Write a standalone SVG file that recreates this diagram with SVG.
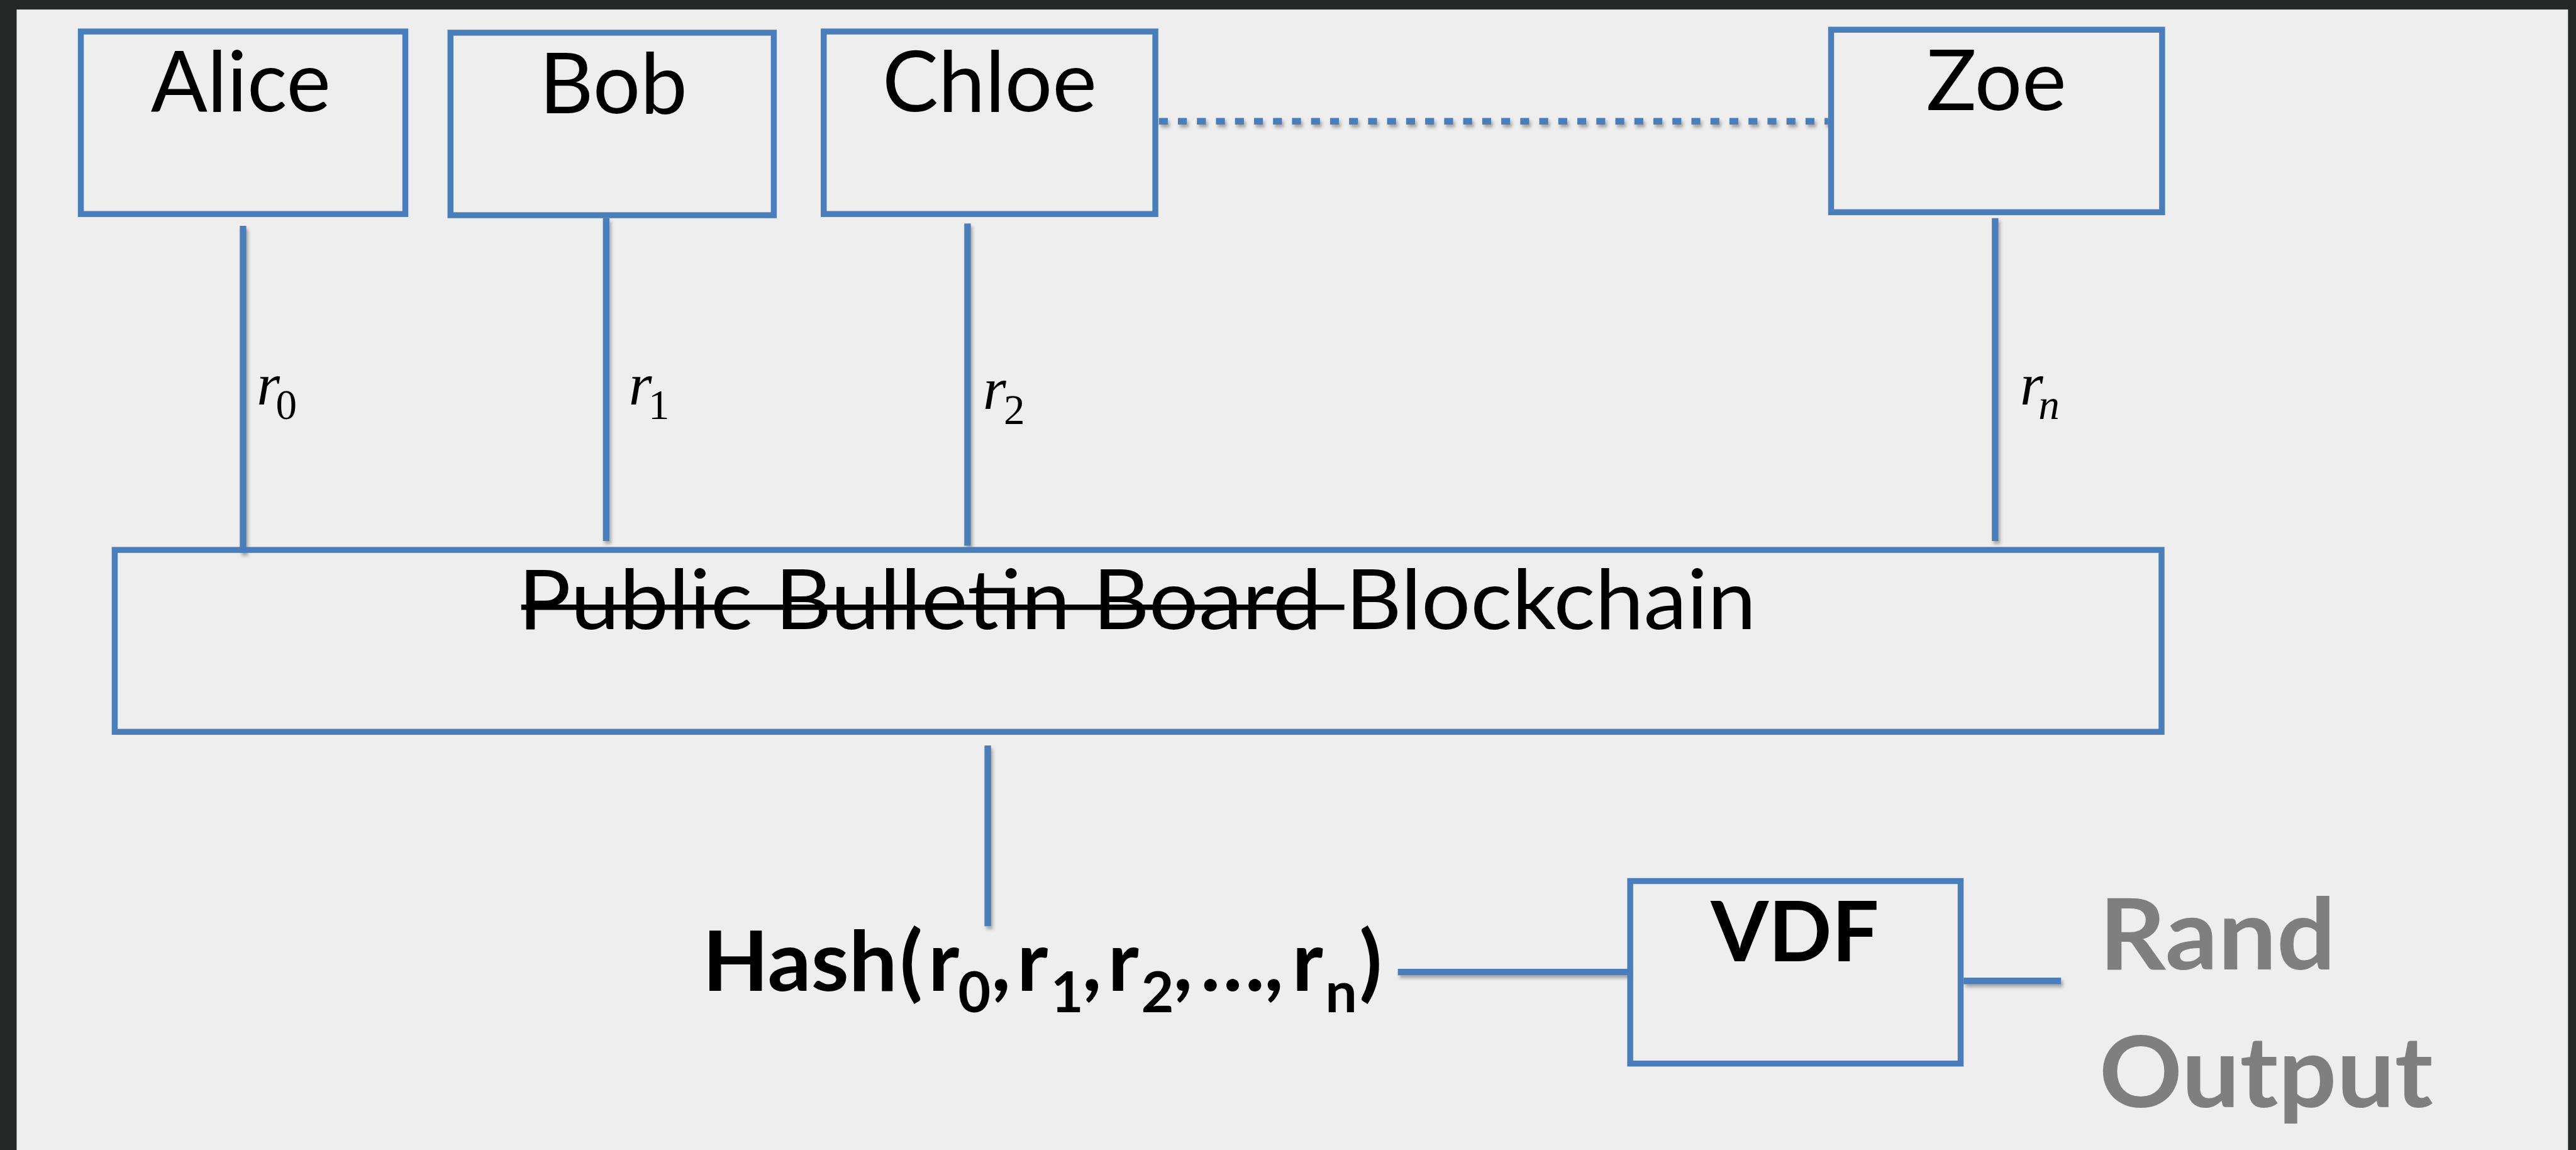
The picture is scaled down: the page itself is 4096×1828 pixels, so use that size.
<svg xmlns="http://www.w3.org/2000/svg" width="4096" height="1828" viewBox="0 0 4096 1828">
<defs>
<filter id="sh" x="-20%" y="-20%" width="140%" height="140%">
<feDropShadow dx="3" dy="5" stdDeviation="3" flood-color="#000" flood-opacity="0.3"/>
</filter>
<style>
.box{fill:none;stroke:#4a7ebb;stroke-width:10}
.con{stroke:#4a7ebb;stroke-width:11;fill:none;stroke-linecap:butt}
.name{font-family:Lato,"Liberation Sans",sans-serif;font-size:141px;fill:#000;text-anchor:middle}
.bc{font-family:Lato,"Liberation Sans",sans-serif;font-size:140px;fill:#000}
.lab{font-family:"Liberation Serif","Times New Roman",serif;font-size:100px;fill:#000}
.sub{font-size:71px}
.it{font-style:italic}
.hash{font-family:Lato,"Liberation Sans",sans-serif;font-weight:700;font-size:140px;fill:#000}
.hs{font-size:95px}
.out{font-family:Lato,"Liberation Sans",sans-serif;font-weight:700;font-size:167px;fill:#7f7f7f}
</style>
</defs>
<rect x="0" y="0" width="4096" height="1828" fill="#262828"/>
<g transform="scale(0.945)">
<rect x="28" y="16" width="4293" height="1930" fill="#eeeeee"/>

<g id="connectors" filter="url(#sh)">
<line class="con" x1="409" y1="380" x2="409" y2="930"/>
<line class="con" x1="1020" y1="367" x2="1020" y2="910"/>
<line class="con" x1="1628" y1="376" x2="1628" y2="918"/>
<line class="con" x1="3357" y1="367" x2="3357" y2="910"/>
<line class="con" x1="1950" y1="204" x2="3076" y2="204" stroke-width="10" stroke-dasharray="15 17"/>
<line class="con" x1="1662" y1="1254" x2="1662" y2="1558"/>
<line class="con" x1="2352" y1="1635" x2="2741" y2="1635" stroke-width="10"/>
<line class="con" x1="3304" y1="1650" x2="3468" y2="1650" stroke-width="10"/>
</g>

<g id="alice">
<rect class="box" x="136" y="53" width="546" height="307"/>
<text class="name" x="405" y="187">Alice</text>
</g>
<g id="bob">
<rect class="box" x="758" y="55" width="544" height="307"/>
<text class="name" x="1032" y="190">Bob</text>
</g>
<g id="chloe">
<rect class="box" x="1386" y="53" width="558" height="307"/>
<text class="name" x="1665" y="187">Chloe</text>
</g>
<g id="zoe">
<rect class="box" x="3081" y="50" width="557" height="307"/>
<text class="name" x="3359" y="185">Zoe</text>
</g>

<g id="labels">
<text class="lab" x="432" y="680"><tspan class="it">r</tspan><tspan class="sub" x="464" y="705">0</tspan></text>
<text class="lab" x="1058" y="680"><tspan class="it">r</tspan><tspan class="sub" x="1091" y="705">1</tspan></text>
<text class="lab" x="1654" y="688"><tspan class="it">r</tspan><tspan class="sub" x="1689" y="713">2</tspan></text>
<text class="lab" x="3399" y="680"><tspan class="it">r</tspan><tspan class="sub it" x="3430" y="705">n</tspan></text>
</g>

<g id="blockchain">
<rect class="box" x="193" y="925" width="3444" height="306"/>
<text class="bc" x="872" y="1058" textLength="1352" lengthAdjust="spacingAndGlyphs">Public Bulletin Board</text>
<line x1="877" y1="1021.5" x2="2262" y2="1021.5" stroke="#000" stroke-width="9"/>
<text class="bc" x="2264" y="1058" textLength="691" lengthAdjust="spacingAndGlyphs">Blockchain</text>
</g>

<g id="hash">
<text class="hash" x="1182" y="1667" textLength="328" lengthAdjust="spacingAndGlyphs">Hash</text>
<text class="hash" y="1667"><tspan x="1514">(</tspan><tspan x="1562">r</tspan><tspan class="hs" x="1612" y="1703">0</tspan><tspan x="1668" y="1667">,</tspan><tspan x="1711">r</tspan><tspan class="hs" x="1768" y="1703">1</tspan><tspan x="1821" y="1667">,</tspan><tspan x="1864">r</tspan><tspan class="hs" x="1920" y="1703">2</tspan><tspan x="1974" y="1667">,</tspan><tspan x="2020">…</tspan><tspan x="2127">,</tspan><tspan x="2174">r</tspan><tspan class="hs" x="2230" y="1703">n</tspan><tspan x="2287" y="1667">)</tspan></text>
</g>

<g id="vdf">
<rect class="box" x="2743" y="1482" width="556" height="307"/>
<text class="hash" x="3020" y="1617" text-anchor="middle" font-size="141">VDF</text>
</g>

<g id="rand-output">
<text class="out" x="3532" y="1631" textLength="398" lengthAdjust="spacingAndGlyphs">Rand</text>
<text class="out" x="3532" y="1862" textLength="562" lengthAdjust="spacingAndGlyphs">Output</text>
</g>
</g>
</svg>
